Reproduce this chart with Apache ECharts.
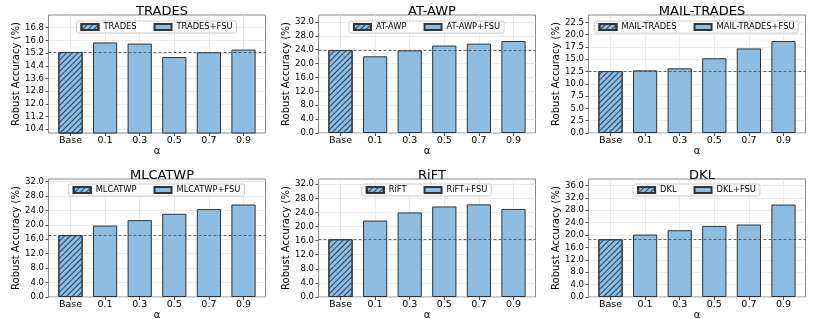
<!DOCTYPE html>
<html><head><meta charset="utf-8">
<script src="https://cdn.jsdelivr.net/npm/echarts@6/dist/echarts.min.js"></script>
<style>html,body{margin:0;padding:0;background:#fff;overflow:hidden}#c{width:814px;height:319px}</style>
</head><body><div id="c"></div>
<script>
// ---- data ----
const categories = ['Base', '0.1', '0.3', '0.5', '0.7', '0.9'];
const titles = ['TRADES', 'AT-AWP', 'MAIL-TRADES', 'MLCATWP', 'RiFT', 'DKL'];
const tradesBase = 15.27;
const tradesFsu = [15.87, 15.80, 14.95, 15.25, 15.42];
const atawpBase = 23.9;
const atawpFsu = [22.1, 23.8, 25.2, 25.75, 26.5];
const mailBase = 12.6;
const mailFsu = [12.74, 13.15, 15.2, 17.2, 18.7];
const mlcatwpBase = 17.16;
const mlcatwpFsu = [19.8, 21.3, 23.06, 24.36, 25.64];
const riftBase = 16.4;
const riftFsu = [21.7, 24.0, 25.7, 26.3, 25.0];
const dklBase = 18.66;
const dklFsu = [20.15, 21.56, 22.96, 23.4, 29.85];
// tick labels per panel
const tradesTicks = [10.4, 11.2, 12.0, 12.8, 13.6, 14.4, 15.2, 16.0, 16.8];
const atawpTicks = [0, 4, 8, 12, 16, 20, 24, 28, 32];
const mailTicks = [0, 2.5, 5, 7.5, 10, 12.5, 15, 17.5, 20, 22.5];
const mlcatwpTicks = [0, 4, 8, 12, 16, 20, 24, 28, 32];
const riftTicks = [0, 4, 8, 12, 16, 20, 24, 28, 32];
const dklTicks = [0, 4, 8, 12, 16, 20, 24, 28, 32, 36];

const bases = [tradesBase, atawpBase, mailBase, mlcatwpBase, riftBase, dklBase];
const fsus = [tradesFsu, atawpFsu, mailFsu, mlcatwpFsu, riftFsu, dklFsu];
const ticks = [tradesTicks, atawpTicks, mailTicks, mlcatwpTicks, riftTicks, dklTicks];

// ---- layout ----
const yMin = [10.16, 0, 0, 0, 0, 0];
const yMax = [17.6, 34.0, 24.0, 32.7, 33.5, 38.1];
const frames = [
  {left: 48.5, top: 15, width: 217, height: 118},
  {left: 318.5, top: 15, width: 217, height: 118},
  {left: 588.5, top: 15, width: 217, height: 118},
  {left: 48.5, top: 179, width: 217, height: 118},
  {left: 318.5, top: 179, width: 217, height: 118},
  {left: 588.5, top: 179, width: 217, height: 118}
];
const INSET = 4.7; // extra x margin of the category range inside the frame
const legendTop = [21, 21, 21, 184, 184, 184];
const FILL = '#8dbde3';
const EDGE = '#333333';
const FONT = 'DejaVu Sans';

const option = {
  animation: false,
  textStyle: {fontFamily: FONT},
  title: [], grid: [], xAxis: [], yAxis: [], series: [], legend: []
};

titles.forEach((t, i) => {
  const f = frames[i];
  const fi = 2 * i, di = 2 * i + 1;
  option.title.push({
    text: t, left: f.left + f.width / 2, top: i < 3 ? 0 : 164, textAlign: 'center',
    textStyle: {fontFamily: FONT, fontSize: 13, fontWeight: 'normal', color: '#000'}
  });
  // frame grid (axes box, y ticks, horizontal grid)
  option.grid.push({show: true, borderColor: '#8a8a8a', borderWidth: 1,
    outerBoundsMode: 'none', containLabel: false,
    left: f.left, top: f.top, width: f.width, height: f.height});
  // data grid (bars)
  option.grid.push({show: false, outerBoundsMode: 'none', containLabel: false,
    left: f.left + INSET, top: f.top, width: f.width - 2 * INSET, height: f.height});
  option.xAxis.push({type: 'value', gridIndex: fi, min: 0, max: 1, show: false});
  option.yAxis.push({
    type: 'value', gridIndex: fi, min: yMin[i], max: yMax[i],
    name: 'Robust Accuracy (%)', nameLocation: 'middle', nameGap: 27,
    nameTextStyle: {fontFamily: FONT, fontSize: 10, color: '#000'},
    axisLine: {show: false},
    axisTick: {show: true, length: 3, lineStyle: {color: '#555'}, customValues: ticks[i]},
    axisLabel: {fontFamily: FONT, fontSize: 8.5, color: '#000', margin: 4.5,
      customValues: ticks[i], formatter: v => Number(v).toFixed(1)},
    splitLine: {show: true, lineStyle: {color: '#e6e6e6', width: 0.8}}
  });
  option.xAxis.push({
    type: 'category', gridIndex: di, data: categories,
    name: 'α', nameLocation: 'middle', nameGap: 11,
    nameTextStyle: {fontFamily: FONT, fontSize: 10, color: '#000'},
    axisLine: {show: false},
    axisTick: {show: true, alignWithLabel: true, length: 3, lineStyle: {color: '#555'}},
    axisLabel: {fontFamily: FONT, fontSize: 9.5, color: '#000', margin: 3},
    splitLine: {show: true, alignWithLabel: true, lineStyle: {color: '#e6e6e6', width: 0.8}}
  });
  option.yAxis.push({type: 'value', gridIndex: di, min: yMin[i], max: yMax[i], show: false,
    splitLine: {show: false}});

  const baseName = t, fsuName = t + '+FSU';
  const baseData = categories.map((c, k) => k === 0 ? bases[i] : '-');
  const fsuData = categories.map((c, k) => k === 0 ? '-' : fsus[i][k - 1]);
  option.series.push({
    name: baseName, type: 'bar', xAxisIndex: di, yAxisIndex: di, stack: 's' + i,
    barWidth: '70%', data: baseData,
    itemStyle: {color: FILL, borderColor: EDGE, borderWidth: 1,
      decal: {symbol: 'rect', symbolSize: 1, dashArrayX: [1, 0], dashArrayY: [1, 2.6],
        rotation: -Math.PI / 4, color: '#25405c'}}
  });
  option.series.push({
    name: fsuName, type: 'bar', xAxisIndex: di, yAxisIndex: di, stack: 's' + i,
    barWidth: '70%', data: fsuData,
    itemStyle: {color: FILL, borderColor: EDGE, borderWidth: 1}
  });
  // dashed baseline across the full axes box
  option.series.push({
    name: 'ref' + i, type: 'line', xAxisIndex: fi, yAxisIndex: fi, data: [], z: 3,
    markLine: {silent: true, symbol: 'none', label: {show: false}, animation: false,
      lineStyle: {type: [3, 2], color: '#444', width: 0.8},
      data: [{yAxis: bases[i]}]}
  });
  option.legend.push({
    data: [baseName, fsuName], left: 0, top: legendTop[i],
    orient: 'horizontal', icon: 'rect', itemWidth: 17, itemHeight: 6, itemGap: 17,
    padding: [2, 4], borderColor: '#cccccc', borderWidth: 1, borderRadius: 2,
    backgroundColor: 'rgba(255,255,255,0.85)',
    textStyle: {fontFamily: FONT, fontSize: 8.3, color: '#000'}
  });
});

const chart = echarts.init(document.getElementById('c'), null, {renderer: 'canvas'});
chart.setOption(option);
// center each legend box on its axes box
const newLegends = option.legend.map((lg, i) => {
  const m = chart.getModel().getComponent('legend', i);
  const view = chart.getViewOfComponentModel(m);
  const w = view.group.getBoundingRect().width;
  const f = frames[i];
  return {left: f.left + f.width / 2 - w / 2};
});
chart.setOption({legend: newLegends});
</script></body></html>
